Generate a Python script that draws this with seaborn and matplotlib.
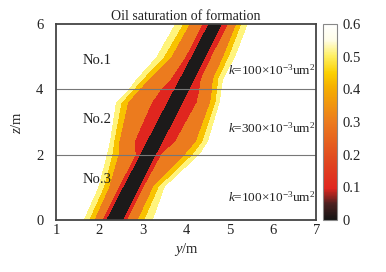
import numpy as np
import matplotlib
matplotlib.use("Agg")
import matplotlib.pyplot as plt
import seaborn as sns
from matplotlib.colors import LinearSegmentedColormap, Normalize
from matplotlib.cm import ScalarMappable

# ---- data: contour boundary positions (y, m) at each depth row (z, m) ----
z_rows = [0, 1, 2, 2.4, 3.6, 4, 4.3, 5, 6]
# left side boundaries
left_black = [2.14, 2.53, 2.93, 3.08, 3.55, 3.71, 3.83, 4.11, 4.50]   # S=0.10
left_red = [2.06, 2.43, 2.83, 2.80, 3.20, 3.41, 3.63, 3.98, 4.37]     # S=0.20
left_orange = [1.87, 2.21, 2.43, 2.45, 2.65, 2.91, 3.13, 3.65, 4.07]  # S=0.35
left_gold = [1.75, 2.09, 2.29, 2.33, 2.50, 2.78, 2.98, 3.48, 3.92]    # S=0.45
left_pale = [1.62, 1.96, 2.16, 2.23, 2.37, 2.66, 2.83, 3.30, 3.73]    # S=0.55
# right side boundaries
right_black = [2.56, 2.94, 3.32, 3.48, 3.94, 4.09, 4.20, 4.47, 4.85]
right_red = [2.65, 3.03, 3.44, 3.76, 4.26, 4.32, 4.35, 4.60, 4.98]
right_orange = [2.90, 3.25, 3.99, 4.24, 4.57, 4.61, 4.63, 4.87, 5.17]
right_gold = [3.05, 3.38, 4.17, 4.39, 4.69, 4.73, 4.75, 5.00, 5.29]
right_pale = [3.25, 3.52, 4.33, 4.52, 4.79, 4.83, 4.87, 5.15, 5.44]

boundary_values = [0.55, 0.45, 0.35, 0.20, 0.10]
contour_levels = [0, 0.1, 0.2, 0.35, 0.45, 0.55, 0.7]
band_colors = ["#1c1a1a", "#e0261f", "#ec7b1e", "#f8c200", "#fff47c", "#ffffff"]

layer_labels = ["No.1", "No.2", "No.3"]
layer_label_z = [4.87, 3.08, 1.24]
perm_labels = ["100", "300", "100"]
perm_label_z = [4.57, 2.80, 0.71]
layer_bounds = [2, 4]

cbar_ticks = [0, 0.1, 0.2, 0.3, 0.4, 0.5, 0.6]
cbar_ticklabels = ["0", "0.1", "0.2", "0.3", "0.4", "0.5", "0.6"]
x_ticks = [1, 2, 3, 4, 5, 6, 7]
y_ticks = [0, 2, 4, 6]

# ---- style ----
sns.set_theme(style="white")
plt.rcParams["font.family"] = ["Liberation Serif", "DejaVu Serif"]
plt.rcParams["mathtext.fontset"] = "custom"
plt.rcParams["mathtext.rm"] = "Liberation Serif"
plt.rcParams["mathtext.it"] = "Liberation Serif:italic"

# ---- build field from boundaries ----
zg = np.linspace(0, 6, 301)
yg = np.linspace(1, 7, 601)
Lb = [left_pale, left_gold, left_orange, left_red, left_black]
Rb = [right_black, right_red, right_orange, right_gold, right_pale]
field = np.zeros((len(zg), len(yg)))
for i, z in enumerate(zg):
    lpos = [np.interp(z, z_rows, b) for b in Lb]
    rpos = [np.interp(z, z_rows, b) for b in Rb]
    center = 0.5 * (lpos[-1] + rpos[0])
    xs = [lpos[0] - 0.08] + lpos + [center] + rpos + [rpos[-1] + 0.08]
    vs = [0.65] + boundary_values + [0.0] + boundary_values[::-1] + [0.65]
    field[i] = np.interp(yg, xs, vs)

fig = plt.figure(figsize=(3.86, 2.72), dpi=100)
ax = fig.add_axes([0.145, 0.191, 0.674, 0.721])
cax = fig.add_axes([0.837, 0.191, 0.036, 0.721])

ax.contourf(yg, zg, field, levels=contour_levels, colors=band_colors)
for zb in layer_bounds:
    ax.axhline(zb, color="#777777", lw=0.8)

ax.set_xlim(1, 7)
ax.set_ylim(0, 6)
ax.set_xticks(x_ticks)
ax.set_yticks(y_ticks)
ax.tick_params(axis="x", length=0, labelsize=10.5, pad=3, colors="#222222")
ax.tick_params(axis="y", length=0, labelsize=10.5, pad=9, colors="#222222")
for s in ax.spines.values():
    s.set_color("#444444")
    s.set_linewidth(1.3)
ax.set_title("Oil saturation of formation", fontsize=10, pad=3, color="#222222")
ax.set_xlabel("$y$/m", fontsize=10.5, labelpad=3)
ax.set_ylabel("$z$/m", fontsize=10.5, labelpad=9)

for lab, zz in zip(layer_labels, layer_label_z):
    ax.text(1.62, zz, lab, fontsize=10.5, va="center", ha="left", color="#222222")
for lab, zz in zip(perm_labels, perm_label_z):
    ax.text(6.98, zz, "$k$=" + lab + "×10$^{-3}$um$^{2}$", fontsize=9.5,
            va="center", ha="right", color="#222222")

cmap = LinearSegmentedColormap.from_list("sat", [
    (0.0, "#151515"), (0.08, "#4a2020"), (0.16, "#e0261f"), (0.3, "#e0461f"),
    (0.5, "#ec7b1e"), (0.68, "#f5b000"), (0.75, "#fbd000"), (0.84, "#fff066"),
    (0.92, "#fffde8"), (1.0, "#ffffff")])
sm = ScalarMappable(norm=Normalize(0, 0.6), cmap=cmap)
cb = fig.colorbar(sm, cax=cax)
cb.set_ticks(cbar_ticks)
cb.set_ticklabels(cbar_ticklabels)
cb.ax.tick_params(length=0, labelsize=10.5, pad=4, colors="#222222")
cb.outline.set_edgecolor("#888888")
cb.outline.set_linewidth(0.8)

fig.savefig("out.png", dpi=100)
